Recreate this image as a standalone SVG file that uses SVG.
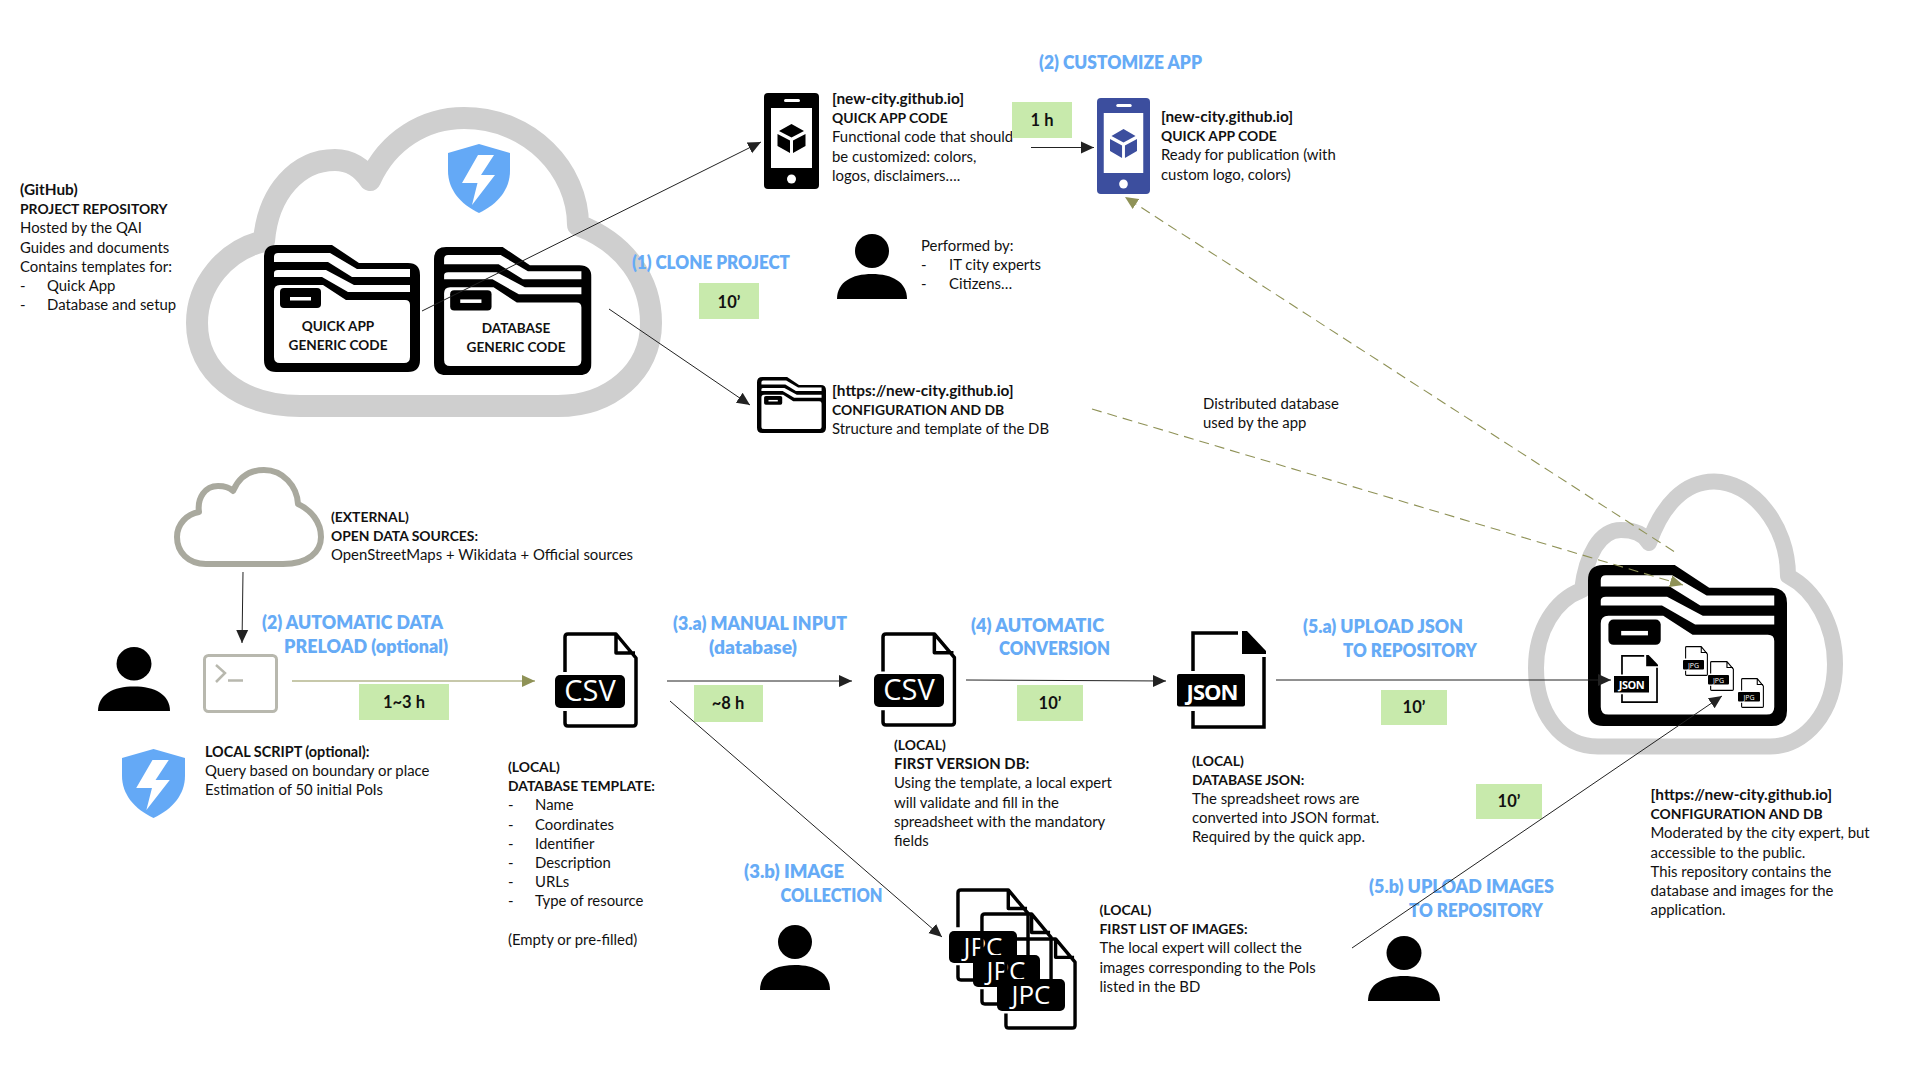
<svg xmlns="http://www.w3.org/2000/svg" xmlns:xlink="http://www.w3.org/1999/xlink" width="1909" height="1067" viewBox="0 0 1909 1067">
<style>
text{font-family:"Lato","Open Sans","Liberation Sans",sans-serif;fill:#111}
.t{font-size:14.9px}
.b{font-size:15.4px;font-weight:700}
.k{font-size:13.9px;font-weight:700}
.f{font-size:13.6px;font-weight:700;text-anchor:middle}
.h{font-size:18px;font-weight:800;fill:#66abf6}
.g{font-size:16.5px;font-weight:700;text-anchor:middle}
.box{fill:#c8eaac}
.cl{fill:none;stroke:#cfcfcf;stroke-linejoin:round}
.lab{font-family:"Open Sans","Liberation Sans",sans-serif;fill:#fff;text-anchor:middle}
.c{fill:none;stroke:#222;stroke-width:1}
.o{fill:none;stroke:#8f9257;stroke-width:1.100}
.d{stroke-dasharray:10 6}
</style>
<defs>
<marker id="ab" markerUnits="userSpaceOnUse" markerWidth="14" markerHeight="14" refX="13" refY="7" orient="auto"><path d="M0 1L13 7L0 13Z" fill="#222"/></marker>
<marker id="ao" markerUnits="userSpaceOnUse" markerWidth="14" markerHeight="14" refX="13" refY="7" orient="auto"><path d="M0 1L13 7L0 13Z" fill="#8f9257"/></marker>
<symbol id="folder" viewBox="0 0 156 127" preserveAspectRatio="none">
<path d="M12 0H68L95 18H144Q156 18 156 30V115Q156 127 144 127H12Q0 127 0 115V12Q0 0 12 0Z" fill="#000"/>
<path d="M10 17V12Q10 8 14 8H66L93 24H146V32H88L64 17Z" fill="#fff"/>
<path d="M10 32V28Q10 25 14 25H62L90 40H146V47H84L58 32Z" fill="#fff"/>
<path d="M10 46Q10 40 16 40H59L82 55H141Q146 55 146 60V112Q146 118 140 118H16Q10 118 10 112Z" fill="#fff"/>
<rect x="16" y="43" width="41" height="20" rx="4" fill="#000"/>
<rect x="26" y="52" width="21" height="3.500" fill="#fff"/>
</symbol>
<symbol id="shield" viewBox="0 0 62 69" preserveAspectRatio="none">
<path d="M31 0L62 9V27C62 45 50 60 31 69C12 60 0 45 0 27V9Z" fill="#64a9f6"/>
<path d="M30 11H46L33 31H47L24 61L29.500 39H14Z" fill="#fff"/>
</symbol>
<symbol id="phone" viewBox="0 0 55 96" preserveAspectRatio="none">
<rect width="55" height="96" rx="4" fill="currentColor"/>
<rect x="7" y="15" width="41" height="60" fill="#fff"/>
<rect x="20" y="6" width="16" height="3" rx="1.500" fill="#fff"/>
<ellipse cx="27.500" cy="86" rx="4.500" ry="4.500" fill="#fff"/>
<path d="M27.500 31L40 38L27.500 44.500L15 38ZM13.500 41L26 47.500V60L13.500 53ZM41.500 41L29 47.500V60L41.500 53Z" fill="currentColor"/>
</symbol>
<symbol id="person" viewBox="0 0 70 65" preserveAspectRatio="none">
<ellipse cx="35" cy="17" rx="17" ry="17" fill="#000"/>
<path d="M0 65C0 48 15 40 35 40C55 40 70 48 70 65Z" fill="#000"/>
</symbol>
<symbol id="file" viewBox="0 0 75 96" preserveAspectRatio="none">
<path d="M2 40V5Q2 2 5 2H53L73 26V91Q73 94 70 94H5Q2 94 2 91V79M53 3V21H72" fill="none" stroke="#000" stroke-width="3.500" stroke-linejoin="round"/>
</symbol>
<symbol id="jfile" viewBox="0 0 75 98" preserveAspectRatio="none">
<path d="M2 40V2H47M73 26V96H2V80" fill="none" stroke="#000" stroke-width="3.500"/>
<path d="M51 0H56L75 20V23H51Z" fill="#000"/>
</symbol>
</defs>

<g id="cloud-github">
<path class="cl" stroke-width="22" d="M300 406C240 406 197 372 197 323C197 285 225 250 264 241C268 192 298 160 335 160C350 160 362 168 370 180C388 140 425 118 464 118C530 118 578 170 578 225C625 243 651 280 651 323C651 372 610 406 558 406Z"/>
<use href="#shield" x="448" y="144" width="62" height="69"/>
<use href="#folder" x="264" y="245" width="156" height="127"/>
<use href="#folder" x="434" y="247" width="157.500" height="128"/>
<text class="f" x="338" y="331">QUICK APP</text>
<text class="f" x="338" y="350">GENERIC CODE</text>
<text class="f" x="516" y="333">DATABASE</text>
<text class="f" x="516" y="352">GENERIC CODE</text>
</g>
<g id="repo-text">
<text class="b" x="20" y="195">(GitHub)</text>
<text class="k" x="20" y="214">PROJECT REPOSITORY</text>
<text class="t" x="20" y="233">Hosted by the QAI</text>
<text class="t" x="20" y="253">Guides and documents</text>
<text class="t" x="20" y="272">Contains templates for:</text>
<text class="t" x="20" y="291">-</text><text class="t" x="47" y="291">Quick App</text>
<text class="t" x="20" y="310">-</text><text class="t" x="47" y="310">Database and setup</text>
</g>
<g id="phone-black" color="#000">
<use href="#phone" x="764" y="93" width="55" height="96"/>
<text class="b" x="832" y="104">[new-city.github.io]</text>
<text class="k" x="832" y="123">QUICK APP CODE</text>
<text class="t" x="832" y="142">Functional code that should</text>
<text class="t" x="832" y="162">be customized: colors,</text>
<text class="t" x="832" y="181">logos, disclaimers….</text>
</g>
<g id="phone-blue" color="#3c4e9e">
<use href="#phone" x="1097" y="98" width="53" height="96"/>
<text class="b" x="1161" y="122">[new-city.github.io]</text>
<text class="k" x="1161" y="141">QUICK APP CODE</text>
<text class="t" x="1161" y="160">Ready for publication (with</text>
<text class="t" x="1161" y="180">custom logo, colors)</text>
</g>
<g id="step-customize"><text class="h" x="1039" y="69" textLength="163" lengthAdjust="spacingAndGlyphs">(2) CUSTOMIZE APP</text>
<rect class="box" x="1012" y="102" width="60" height="36"/><text class="g" x="1042" y="126">1 h</text></g>
<g id="step-clone"><text class="h" x="632" y="269" textLength="158" lengthAdjust="spacingAndGlyphs">(1) CLONE PROJECT</text>
<rect class="box" x="699" y="283" width="60" height="36"/><text class="g" x="729" y="308">10’</text></g>
<g id="performers">
<use href="#person" x="837" y="234" width="70" height="65"/>
<text class="t" x="921" y="251">Performed by:</text>
<text class="t" x="921" y="270">-</text><text class="t" x="949" y="270">IT city experts</text>
<text class="t" x="921" y="289">-</text><text class="t" x="949" y="289">Citizens…</text>
</g>
<g id="config-local">
<use href="#folder" x="757" y="377" width="69" height="56"/>
<text class="b" x="832" y="396">[https://new-city.github.io]</text>
<text class="k" x="832" y="415">CONFIGURATION AND DB</text>
<text class="t" x="832" y="434">Structure and template of the DB</text>
</g>
<g id="distributed-note">
<text class="t" x="1203" y="409">Distributed database</text>
<text class="t" x="1203" y="428">used by the app</text>
</g>
<g id="open-data">
<path fill="none" stroke="#a9a99e" stroke-width="6" stroke-linejoin="round" d="M206 564C188 564 177 552 177 537C177 524 187 514 199 512C197 498 205 486 218 486C225 486 230 488 233 491C239 477 250 470 264 470C283 470 297 486 298 504C311 510 321 522 321 537C321 552 308 564 283 564Z"/>
<text class="k" x="331" y="522">(EXTERNAL)</text>
<text class="k" x="331" y="541">OPEN DATA SOURCES:</text>
<text class="t" x="331" y="560">OpenStreetMaps + Wikidata + Official sources</text>
</g>
<g id="local-script">
<use href="#person" x="98" y="647" width="72" height="64"/>
<rect x="204.500" y="655.500" width="72" height="56" rx="4" fill="none" stroke="#b8b8ae" stroke-width="3"/>
<path d="M216 665L225 673L216 682M228 680.500H243" fill="none" stroke="#b8b8ae" stroke-width="2.500"/>
<use href="#shield" x="122" y="749" width="63" height="69"/>
<text class="h" x="262" y="629" textLength="181" lengthAdjust="spacingAndGlyphs">(2) AUTOMATIC DATA</text>
<text class="h" x="284" y="653" textLength="164" lengthAdjust="spacingAndGlyphs">PRELOAD (optional)</text>
<rect class="box" x="359" y="684" width="90" height="36"/><text class="g" x="404" y="708">1~3 h</text>
<text class="k" x="205" y="757" style="font-size:14.400px">LOCAL SCRIPT (optional):</text>
<text class="t" x="205" y="776">Query based on boundary or place</text>
<text class="t" x="205" y="795">Estimation of 50 initial PoIs</text>
</g>
<g id="csv-template">
<use href="#file" x="563" y="632" width="75" height="96"/>
<rect x="555" y="675" width="70" height="33" rx="5" fill="#000"/>
<text class="lab" x="590" y="701" font-size="29">CSV</text>
<text class="k" x="508" y="772">(LOCAL)</text>
<text class="k" x="508" y="791">DATABASE TEMPLATE:</text>
<text class="t" x="508" y="810">-</text><text class="t" x="535" y="810">Name</text>
<text class="t" x="508" y="830">-</text><text class="t" x="535" y="830">Coordinates</text>
<text class="t" x="508" y="849">-</text><text class="t" x="535" y="849">Identifier</text>
<text class="t" x="508" y="868">-</text><text class="t" x="535" y="868">Description</text>
<text class="t" x="508" y="887">-</text><text class="t" x="535" y="887">URLs</text>
<text class="t" x="508" y="906">-</text><text class="t" x="535" y="906">Type of resource</text>
<text class="t" x="508" y="945">(Empty or pre-filled)</text>
</g>
<g id="step-manual">
<text class="h" x="673" y="630" textLength="174" lengthAdjust="spacingAndGlyphs">(3.a) MANUAL INPUT</text>
<text class="h" x="709" y="654" textLength="88" lengthAdjust="spacingAndGlyphs">(database)</text>
<rect class="box" x="694" y="685" width="69" height="37"/><text class="g" x="728" y="709">~8 h</text>
</g>
<g id="csv-first">
<use href="#file" x="881" y="632" width="75.500" height="95"/>
<rect x="874" y="674" width="70" height="33" rx="5" fill="#000"/>
<text class="lab" x="909" y="700" font-size="29">CSV</text>
<text class="k" x="894" y="750">(LOCAL)</text>
<text class="b" x="894" y="769" style="font-size:14.900px">FIRST VERSION DB:</text>
<text class="t" x="894" y="788">Using the template, a local expert</text>
<text class="t" x="894" y="808">will validate and fill in the</text>
<text class="t" x="894" y="827">spreadsheet with the mandatory</text>
<text class="t" x="894" y="846">fields</text>
</g>
<g id="step-convert">
<text class="h" x="971" y="632" textLength="133" lengthAdjust="spacingAndGlyphs">(4) AUTOMATIC</text>
<text class="h" x="999" y="655" textLength="111" lengthAdjust="spacingAndGlyphs">CONVERSION</text>
<rect class="box" x="1017" y="685" width="66" height="36"/><text class="g" x="1050" y="709">10’</text>
</g>
<g id="json-file">
<use href="#jfile" x="1191" y="631" width="75" height="98"/>
<rect x="1177" y="674" width="68" height="32.500" rx="2" fill="#000"/>
<text class="lab" x="1212" y="700" font-size="22" font-weight="700" letter-spacing="-1">JSON</text>
<text class="k" x="1192" y="766">(LOCAL)</text>
<text class="k" x="1192" y="785">DATABASE JSON:</text>
<text class="t" x="1192" y="804">The spreadsheet rows are</text>
<text class="t" x="1192" y="823">converted into JSON format.</text>
<text class="t" x="1192" y="842">Required by the quick app.</text>
</g>
<g id="step-upload-json">
<text class="h" x="1303" y="633" textLength="160" lengthAdjust="spacingAndGlyphs">(5.a) UPLOAD JSON</text>
<text class="h" x="1343" y="657" textLength="134" lengthAdjust="spacingAndGlyphs">TO REPOSITORY</text>
<rect class="box" x="1381" y="690" width="66" height="35"/><text class="g" x="1414" y="713">10’</text>
</g>
<g id="step-images">
<text class="h" x="744" y="878" textLength="100" lengthAdjust="spacingAndGlyphs">(3.b) IMAGE</text>
<text class="h" x="780.500" y="902" textLength="102" lengthAdjust="spacingAndGlyphs">COLLECTION</text>
<use href="#person" x="760" y="925" width="70" height="65"/>
</g>
<g id="jpg-files">
<use href="#file" x="956" y="888" width="74" height="94"/>
<rect x="949" y="931" width="68" height="32" rx="5" fill="#000"/>
<text class="lab" x="983" y="956" font-size="26">JPC</text>
<use href="#file" x="980" y="912" width="73" height="94"/>
<rect x="973" y="955" width="67" height="32" rx="5" fill="#000"/>
<text class="lab" x="1006" y="980" font-size="26">JPC</text>
<use href="#file" x="1004" y="937" width="73" height="93"/>
<rect x="997" y="979" width="68" height="32" rx="5" fill="#000"/>
<text class="lab" x="1031" y="1004" font-size="26">JPC</text>
<text class="k" x="1099.500" y="915">(LOCAL)</text>
<text class="k" x="1099.500" y="934">FIRST LIST OF IMAGES:</text>
<text class="t" x="1099.500" y="953">The local expert will collect the</text>
<text class="t" x="1099.500" y="973">images corresponding to the PoIs</text>
<text class="t" x="1099.500" y="992">listed in the BD</text>
</g>
<g id="step-upload-images">
<text class="h" x="1369" y="893" textLength="185" lengthAdjust="spacingAndGlyphs">(5.b) UPLOAD IMAGES</text>
<text class="h" x="1409" y="917" textLength="134" lengthAdjust="spacingAndGlyphs">TO REPOSITORY</text>
<rect class="box" x="1476" y="784" width="66" height="35"/><text class="g" x="1509" y="807">10’</text>
<use href="#person" x="1368" y="936" width="72" height="65"/>
</g>
<g id="cloud-repo">
<path class="cl" stroke-width="16" d="M1598 746.500C1560 746.500 1536 712 1536 668C1536 630 1555 600 1582 590C1586 555 1600 530 1621 530C1634 530 1644 534 1649 543C1662 505 1685 481.500 1714 481.500C1752 481.500 1788 525 1788 576C1815 590 1835 625 1835 664C1835 712 1805 746.500 1770 746.500Z"/>
<use href="#folder" x="1588" y="565" width="199" height="161"/>
<use href="#jfile" x="1621" y="655" width="37" height="48"/>
<rect x="1614" y="676" width="35" height="16.500" fill="#000"/>
<text class="lab" x="1631.500" y="688.500" font-size="11" font-weight="700" letter-spacing="-.5">JSON</text>
<use href="#file" x="1685" y="646" width="23" height="30"/>
<rect x="1683" y="660" width="21" height="9.500" rx="1" fill="#000"/>
<text class="lab" x="1693.500" y="668" font-size="7">JPG</text>
<use href="#file" x="1710" y="661" width="24" height="30"/>
<rect x="1708" y="675" width="21" height="9.500" rx="1" fill="#000"/>
<text class="lab" x="1718.500" y="682.500" font-size="7">JPG</text>
<use href="#file" x="1741" y="678" width="23" height="30"/>
<rect x="1738" y="692" width="22" height="9.500" rx="1" fill="#000"/>
<text class="lab" x="1749" y="699.500" font-size="7">JPG</text>
<text class="b" x="1650.500" y="800">[https://new-city.github.io]</text>
<text class="k" x="1650.500" y="819">CONFIGURATION AND DB</text>
<text class="t" x="1650.500" y="838">Moderated by the city expert, but</text>
<text class="t" x="1650.500" y="858">accessible to the public.</text>
<text class="t" x="1650.500" y="877">This repository contains the</text>
<text class="t" x="1650.500" y="896">database and images for the</text>
<text class="t" x="1650.500" y="915">application.</text>
</g>
<g id="connectors">
<path class="c" marker-end="url(#ab)" d="M422 311L761 142"/>
<path class="c" marker-end="url(#ab)" d="M609 309L750 405"/>
<path class="c" marker-end="url(#ab)" d="M1031 147.500H1094"/>
<path class="o d" marker-end="url(#ao)" d="M1674 551.500L1125 197"/>
<path class="o d" marker-end="url(#ao)" d="M1092 409L1683 585"/>
<path class="c" marker-end="url(#ab)" d="M243 572L242 643"/>
<path class="o" marker-end="url(#ao)" d="M292 681H535"/>
<path class="c" marker-end="url(#ab)" d="M667 681H852"/>
<path class="c" marker-end="url(#ab)" d="M966 680L1166 681"/>
<path class="c" marker-end="url(#ab)" d="M1276 680H1611"/>
<path class="c" marker-end="url(#ab)" d="M670 701L942 937"/>
<path class="c" marker-end="url(#ab)" d="M1352 948L1722 696"/>
</g>
</svg>
